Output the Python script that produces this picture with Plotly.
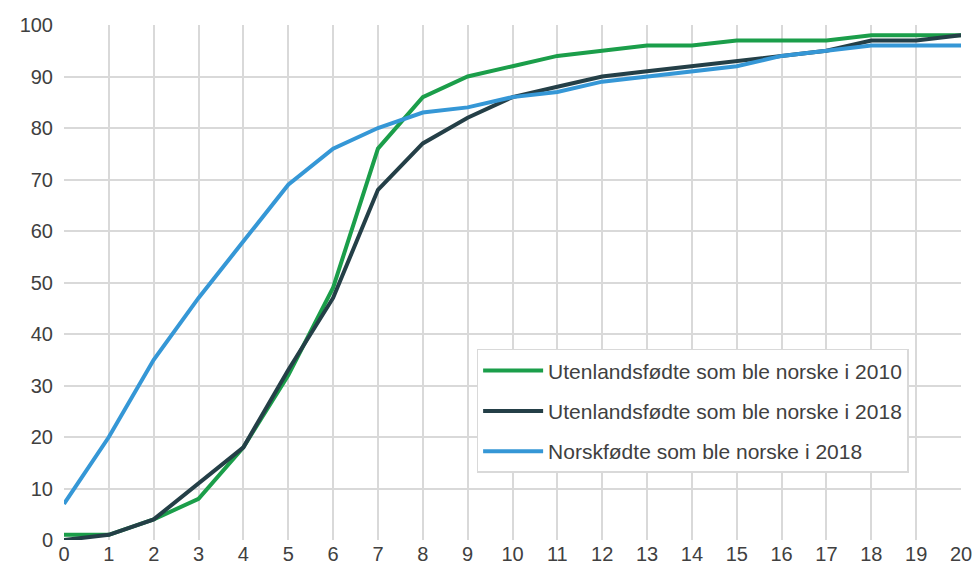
import plotly.graph_objects as go

years = list(range(0, 21))
utl_2010 = [1, 1, 4, 8, 18, 32, 49, 76, 86, 90, 92, 94, 95, 96, 96, 97, 97, 97, 98, 98, 98]
utl_2018 = [0, 1, 4, 11, 18, 33, 47, 68, 77, 82, 86, 88, 90, 91, 92, 93, 94, 95, 97, 97, 98]
norsk_2018 = [7, 20, 35, 47, 58, 69, 76, 80, 83, 84, 86, 87, 89, 90, 91, 92, 94, 95, 96, 96, 96]

names = [
    "Utenlandsfødte som ble norske i 2010",
    "Utenlandsfødte som ble norske i 2018",
    "Norskfødte som ble norske i 2018",
]
colors = ["#1b9e4a", "#243f47", "#3597d6"]

fig = go.Figure()
for i, (vals, name, col) in enumerate(zip([utl_2010, utl_2018, norsk_2018], names, colors)):
    fig.add_trace(go.Scatter(
        x=years, y=vals, mode="lines", name=name,
        line=dict(color=col, width=4),
        legendgroup=f"g{i}",
    ))

fig.update_layout(
    width=975, height=566,
    margin=dict(l=64, r=14, t=25, b=26, autoexpand=False),
    paper_bgcolor="white", plot_bgcolor="white",
    font=dict(family="Liberation Sans, Arial, sans-serif", size=20, color="#404040"),
    xaxis=dict(range=[0, 20], tickmode="array", tickvals=years,
               showgrid=True, gridcolor="#d9d9d9", gridwidth=1.5,
               zeroline=False, showline=False, ticks="", ticklen=0,
               automargin=False, tickfont=dict(size=20)),
    yaxis=dict(range=[0, 100], tickmode="linear", tick0=0, dtick=10,
               showgrid=True, gridcolor="#d9d9d9", gridwidth=1.5,
               zeroline=False, showline=False, ticks="",
               automargin=False, ticklabelstandoff=10,
               tickfont=dict(size=20)),
    legend=dict(x=0.46, y=0.371, xanchor="left", yanchor="top",
                bgcolor="white", bordercolor="#d9d9d9", borderwidth=1.5,
                tracegroupgap=10, traceorder="grouped", itemwidth=60,
                font=dict(size=21, color="#404040")),
    showlegend=True,
)

fig.write_html(
    "out.html",
    config={"displayModeBar": False},
    post_script="document.body.style.margin='0';document.body.style.overflow='hidden';",
)
